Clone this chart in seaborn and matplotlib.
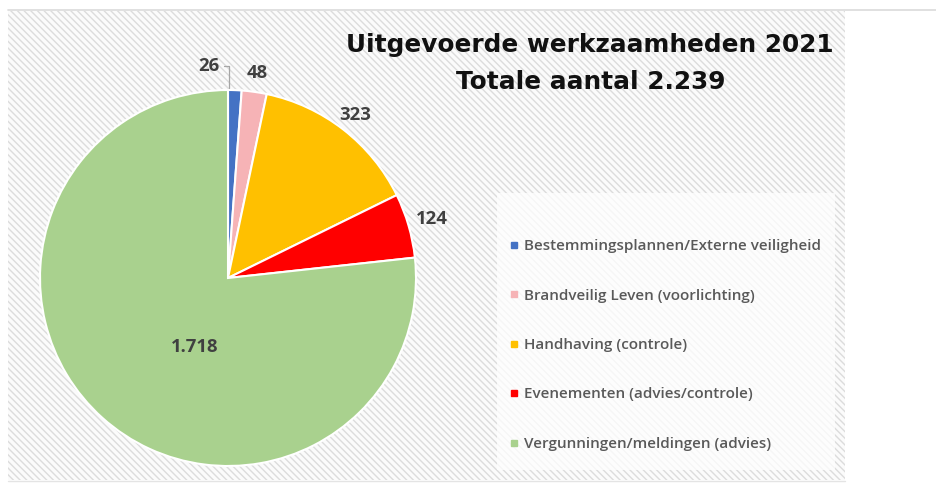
import matplotlib
matplotlib.use("Agg")
import matplotlib.pyplot as plt
import seaborn as sns
import numpy as np
from matplotlib.patches import Rectangle
from matplotlib.lines import Line2D

categories = ["Bestemmingsplannen/Externe veiligheid",
              "Brandveilig Leven (voorlichting)",
              "Handhaving (controle)",
              "Evenementen (advies/controle)",
              "Vergunningen/meldingen (advies)"]
values = [26, 48, 323, 124, 1718]
value_labels = ["26", "48", "323", "124", "1.718"]
colors = ["#4472C4", "#F6B3B6", "#FFC000", "#FF0000", "#A9D18E"]
title_lines = ["Uitgevoerde werkzaamheden 2021", "Totale aantal 2.239"]

sns.set_theme(style="white")
plt.rcParams['font.family'] = ['DejaVu Sans']
plt.rcParams['hatch.linewidth'] = 1.0
plt.rcParams['hatch.color'] = '#DCDCDC'

W, H = 936, 495
fig = plt.figure(figsize=(W / 100, H / 100), dpi=100)
fig.patch.set_facecolor('white')

def fx(px):
    return px / W

def fy(py):
    return 1 - py / H

# hatched chart background
bg = Rectangle((fx(8), fy(480)), fx(845) - fx(8), fy(11) - fy(480),
               transform=fig.transFigure, facecolor='#FBFBFB',
               edgecolor='#DCDCDC', hatch='\\\\\\\\\\', linewidth=0, zorder=-10)
fig.patches.append(bg)
# thin border lines of the screenshot
fig.add_artist(Line2D([fx(8), 1], [fy(10), fy(10)], transform=fig.transFigure,
                      color='#DADADA', lw=1.2, zorder=-5))
fig.add_artist(Line2D([fx(8), fx(845)], [fy(481), fy(481)], transform=fig.transFigure,
                      color='#E4E4E4', lw=1.0, zorder=-5))

# legend box
lg = Rectangle((fx(497), fy(470)), fx(835) - fx(497), fy(193) - fy(470),
               transform=fig.transFigure, facecolor='white', alpha=0.75,
               edgecolor='none', zorder=-5)
fig.patches.append(lg)

# pie axes
ax = fig.add_axes([fx(40), fy(466), fx(416) - fx(40), fy(90) - fy(466)])
ax.set_zorder(5)
ax.set_facecolor('none')
wedges, _ = ax.pie(values, colors=colors, startangle=90, counterclock=False,
                   radius=1.0, wedgeprops=dict(edgecolor='white', linewidth=1.5))
ax.set_xlim(-1, 1)
ax.set_ylim(-1, 1)
ax.set_aspect('equal')
ax.axis('off')

label_font = dict(family=['Open Sans', 'DejaVu Sans'], fontweight='bold',
                  fontsize=13.3, color='#404040')

for i, (w, lab) in enumerate(zip(wedges, value_labels)):
    mid = np.deg2rad((w.theta1 + w.theta2) / 2)
    if i == 0:
        ex, ey = np.cos(mid), np.sin(mid)
        ax.annotate(lab, xy=(ex - 0.03, ey + 0.01), xytext=(ex - 0.14, ey + 0.13),
                    ha='center', va='center', annotation_clip=False, **label_font,
                    arrowprops=dict(arrowstyle='-', color='#A6A6A6', lw=0.9,
                                    connectionstyle='angle,angleA=0,angleB=90,rad=0',
                                    shrinkA=1, shrinkB=0))
    elif i == 4:
        ang = np.deg2rad(244)
        ax.text(0.41 * np.cos(ang), 0.41 * np.sin(ang), lab,
                ha='center', va='center', **label_font)
    else:
        d = 1.1 if i != 3 else 1.13
        ax.text(d * np.cos(mid), d * np.sin(mid), lab,
                ha='center', va='center', **label_font)

# title
fig.text(fx(590), fy(45), title_lines[0], ha='center', va='center',
         fontsize=17.8, fontweight='bold', color='#111111')
fig.text(fx(591), fy(82), title_lines[1], ha='center', va='center',
         fontsize=17.8, fontweight='bold', color='#111111')

# legend
handles = [Line2D([0], [0], marker='s', linestyle='none', markersize=4,
                  markerfacecolor=c, markeredgecolor=c) for c in colors]
leg = fig.legend(handles, categories, loc='center left',
                 bbox_to_anchor=(fx(496), fy(345)), frameon=False,
                 handlelength=0.6, handletextpad=0.3, labelspacing=2.32,
                 prop=dict(family=['Open Sans', 'DejaVu Sans'], size=11.0,
                           weight='semibold'))
for t in leg.get_texts():
    t.set_color('#595959')

fig.savefig('out.png', dpi=100, facecolor='white')
